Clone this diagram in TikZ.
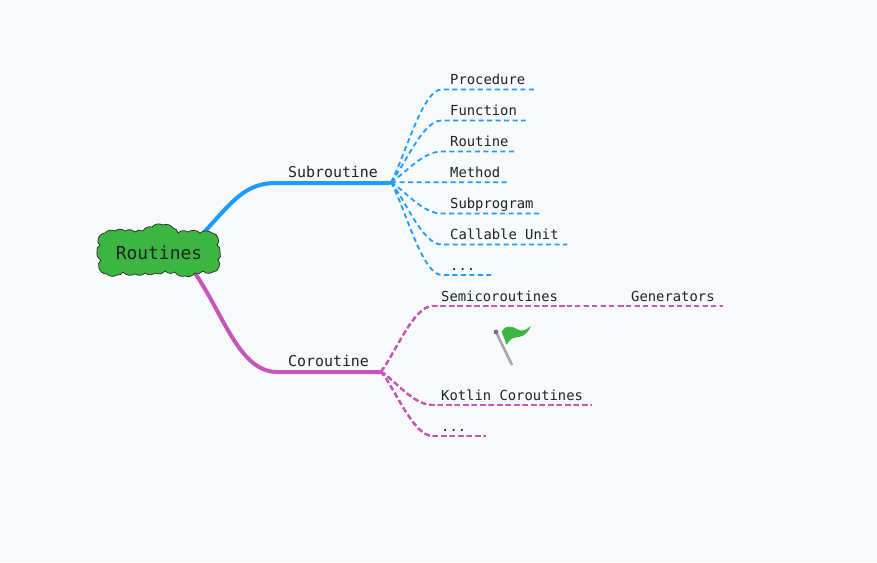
\documentclass[tikz,border=0pt]{standalone}
\usepackage{fontspec}
\setmonofont{DejaVu Sans Mono}
\usetikzlibrary{positioning,backgrounds,calc}
\definecolor{paper}{HTML}{F7F9FA}
\definecolor{ink}{HTML}{1F2328}
\definecolor{sub}{HTML}{1E9BFF}
\definecolor{cor}{HTML}{C458B8}
\definecolor{leafgreen}{HTML}{3DB542}
\definecolor{pole}{HTML}{A6A6A6}
\tikzset{
  root/.style={minimum width=118pt, minimum height=42pt, inner sep=0pt, text=ink, font=\fontsize{17.9}{18}\selectfont\ttfamily},
  branch/.style={anchor=south west, inner xsep=11pt, inner ysep=0pt, text height=11pt, text depth=5.2pt, text=ink, font=\fontsize{14.9}{15}\selectfont\ttfamily},
  leaf/.style={anchor=south west, inner xsep=8.5pt, inner ysep=0pt, text height=10pt, text depth=4.7pt, text=ink, font=\fontsize{13.85}{14}\selectfont\ttfamily},
  dots/.style={text width=36pt, align=left},
  trunk/.style={line width=4pt, line cap=round},
  twig/.style={line width=1.8pt, dash pattern=on 5pt off 3.5pt},
  bumps/.style={fill=leafgreen, draw=black!85, line width=0.7pt},
}
\newcommand{\leaf}[5][]{\node[leaf,#1] (#2) at (#3,#4) {#5};}
\newcommand{\twig}[3]{\draw[twig,#1] (#2) .. controls ($(#2)!.28!(#3.south west)$) and ($(#3.south west)+(-19,0)$) .. (#3.south west) -- (#3.south east);}
\begin{document}
\begin{tikzpicture}[x=1pt,y=-1pt]
  \useasboundingbox (0,0) rectangle (877,562);
  \node[root] (routines) at (159,253) {Routines};
  \node[branch] (subroutine) at (277,183) {Subroutine};
  \node[branch] (coroutine) at (277,372) {Coroutine};
  \coordinate (subhub) at (391,182.2);
  \coordinate (corhub) at (381,371.5);
  % leaves of the upper branch
  \leaf{procedure}{441.5}{89.5}{Procedure}
  \leaf{function}{441.5}{120.5}{Function}
  \leaf{routine}{441.5}{151.5}{Routine}
  \leaf{method}{441.5}{182.2}{Method}
  \leaf{subprogram}{441.5}{213.5}{Subprogram}
  \leaf{callable}{441.5}{244.5}{Callable Unit}
  \leaf[dots]{subdots}{441.5}{275}{...}
  % leaves of the lower branch
  \leaf{semi}{432.5}{306}{Semicoroutines}
  \leaf{generators}{622.5}{306}{Generators}
  \leaf{kotlin}{432.5}{405}{Kotlin Coroutines}
  \leaf[dots]{cordots}{432.5}{436}{...}
  \begin{scope}[on background layer]
    \fill[paper] (0,0) rectangle (877,562);
    \draw[trunk, sub] (routines.25) .. controls (232,202) and (245,182.5) .. (subroutine.south west) -- (subroutine.south east);
    \draw[trunk, cor] (routines.330) .. controls (225,318) and (240,371.5) .. (coroutine.south west) -- (coroutine.south east);
    \foreach \n in {procedure,function,routine,method,subprogram,callable,subdots}
      \twig{sub}{subhub}{\n}
    \foreach \n in {kotlin,cordots,semi}
      \twig{cor}{corhub}{\n}
    \draw[twig, cor] (semi.south east) -- (generators.south west) -- (generators.south east);
    \filldraw[bumps] (98,240) foreach \px/\py in {105/233,115/231,125/231,135/232,143/231,152/227,163/225,173/228,178/233,188/232,200/233,212/233,218/238,217/245,220/252,218/260,219/267,213/272,203/271,195/273,185/276,175/272,165/271,155/273,145/273,135/274,123/272,117/275,107/274,99/268,101/260,97/252,100/245,98/240} {to[bend left=38] (\px,\py)} -- cycle;
  \end{scope}
  % flag
  \draw[pole, line width=2.6pt] (496,332) -- (512,365);
  \fill[pole!70!black] (496,332) circle (2.4);
  \fill[leafgreen] (501.7,331.7) .. controls (504,328) and (506,326.5) .. (510,326.7) .. controls (516,327) and (518,331) .. (522,330.5) .. controls (526,330) and (529,328) .. (531,325.7) .. controls (529,331) and (525,336) .. (519,337) .. controls (514,337.5) and (510,338) .. (506.7,345) .. controls (505,340) and (503,336) .. (501.7,331.7) -- cycle;
\end{tikzpicture}
\end{document}
